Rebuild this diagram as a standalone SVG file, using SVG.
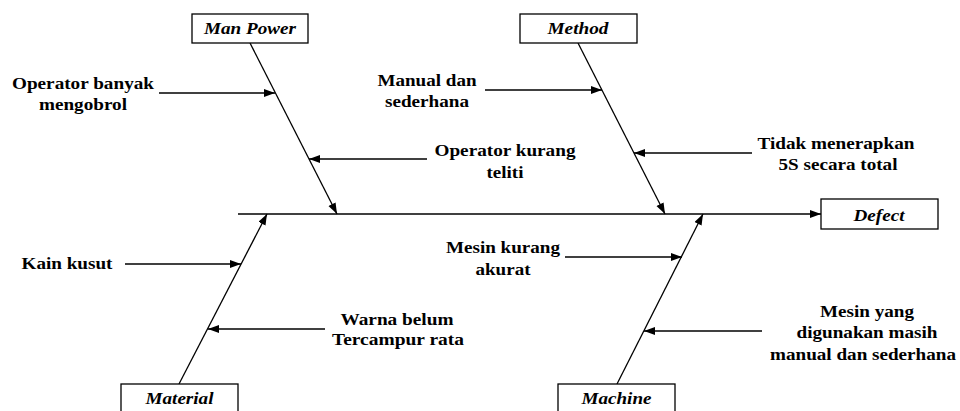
<svg xmlns="http://www.w3.org/2000/svg" width="960" height="411" viewBox="0 0 960 411">
<style>
.box{fill:#fff;stroke:#000;stroke-width:1.3}
.lbl{font-style:italic;text-anchor:middle;fill:#000}
.txt{text-anchor:middle;fill:#000}
.ln{stroke:#000;stroke-width:1.3;fill:none;marker-end:url(#ah)}
</style>
<defs>
<marker id="ah" markerUnits="userSpaceOnUse" markerWidth="12" markerHeight="10" refX="11" refY="4" orient="auto">
<path d="M0,0 L11,4 L0,8 Z" fill="#000"/>
</marker>
</defs>
<rect width="960" height="411" fill="#fff"/>
<g id="connectors">
<line class="ln" x1="238" y1="214" x2="821" y2="214"/>
<line class="ln" x1="250" y1="43" x2="337" y2="214"/>
<line class="ln" x1="578" y1="43" x2="665" y2="214"/>
<line class="ln" x1="179" y1="384" x2="267" y2="214"/>
<line class="ln" x1="617" y1="384" x2="703" y2="214"/>
<line class="ln" x1="159" y1="93" x2="275" y2="93"/>
<line class="ln" x1="427" y1="159" x2="309" y2="159"/>
<line class="ln" x1="485" y1="90" x2="602" y2="90"/>
<line class="ln" x1="752" y1="153" x2="634" y2="153"/>
<line class="ln" x1="125" y1="264" x2="241" y2="264"/>
<line class="ln" x1="325" y1="329" x2="208" y2="329"/>
<line class="ln" x1="565" y1="257" x2="682" y2="257"/>
<line class="ln" x1="762" y1="331" x2="644" y2="331"/>
</g>
<g font-family="Liberation Serif, DejaVu Serif, Times New Roman, serif" font-weight="bold" font-size="17.5">
<g id="man-power">
<rect class="box" x="192" y="14" width="116" height="29"/>
<text class="lbl" x="250" y="34" textLength="92" lengthAdjust="spacingAndGlyphs">Man Power</text>
</g>
<g id="method">
<rect class="box" x="520" y="14" width="117" height="29"/>
<text class="lbl" x="578" y="34" textLength="61" lengthAdjust="spacingAndGlyphs">Method</text>
</g>
<g id="defect">
<rect class="box" x="821" y="199" width="117" height="30"/>
<text class="lbl" x="879" y="221" textLength="51" lengthAdjust="spacingAndGlyphs">Defect</text>
</g>
<g id="material">
<rect class="box" x="121" y="384" width="117" height="40"/>
<text class="lbl" x="179.5" y="404" textLength="68" lengthAdjust="spacingAndGlyphs">Material</text>
</g>
<g id="machine">
<rect class="box" x="558" y="384" width="117" height="40"/>
<text class="lbl" x="616.5" y="404" textLength="70" lengthAdjust="spacingAndGlyphs">Machine</text>
</g>
<g id="cause-operator-banyak">
<text class="txt" x="83" y="89" textLength="142" lengthAdjust="spacingAndGlyphs">Operator banyak</text>
<text class="txt" x="83" y="110" textLength="88" lengthAdjust="spacingAndGlyphs">mengobrol</text>
</g>
<g id="cause-operator-kurang">
<text class="txt" x="505" y="156" textLength="141" lengthAdjust="spacingAndGlyphs">Operator kurang</text>
<text class="txt" x="505" y="178" textLength="37" lengthAdjust="spacingAndGlyphs">teliti</text>
</g>
<g id="cause-manual">
<text class="txt" x="427" y="86" textLength="99" lengthAdjust="spacingAndGlyphs">Manual dan</text>
<text class="txt" x="427" y="107" textLength="84" lengthAdjust="spacingAndGlyphs">sederhana</text>
</g>
<g id="cause-tidak">
<text class="txt" x="836" y="149" textLength="157" lengthAdjust="spacingAndGlyphs">Tidak menerapkan</text>
<text class="txt" x="838" y="170" textLength="119" lengthAdjust="spacingAndGlyphs">5S secara total</text>
</g>
<g id="cause-kain">
<text class="txt" x="67" y="269" textLength="91" lengthAdjust="spacingAndGlyphs">Kain kusut</text>
</g>
<g id="cause-warna">
<text class="txt" x="397" y="325" textLength="113" lengthAdjust="spacingAndGlyphs">Warna belum</text>
<text class="txt" x="398" y="345" textLength="132" lengthAdjust="spacingAndGlyphs">Tercampur rata</text>
</g>
<g id="cause-mesin-kurang">
<text class="txt" x="503" y="253" textLength="114" lengthAdjust="spacingAndGlyphs">Mesin kurang</text>
<text class="txt" x="503" y="275" textLength="55" lengthAdjust="spacingAndGlyphs">akurat</text>
</g>
<g id="cause-mesin-yang">
<text class="txt" x="867" y="317" textLength="94" lengthAdjust="spacingAndGlyphs">Mesin yang</text>
<text class="txt" x="867" y="338" textLength="141" lengthAdjust="spacingAndGlyphs">digunakan masih</text>
<text class="txt" x="863" y="360" textLength="186" lengthAdjust="spacingAndGlyphs">manual dan sederhana</text>
</g>
</g>
</svg>
